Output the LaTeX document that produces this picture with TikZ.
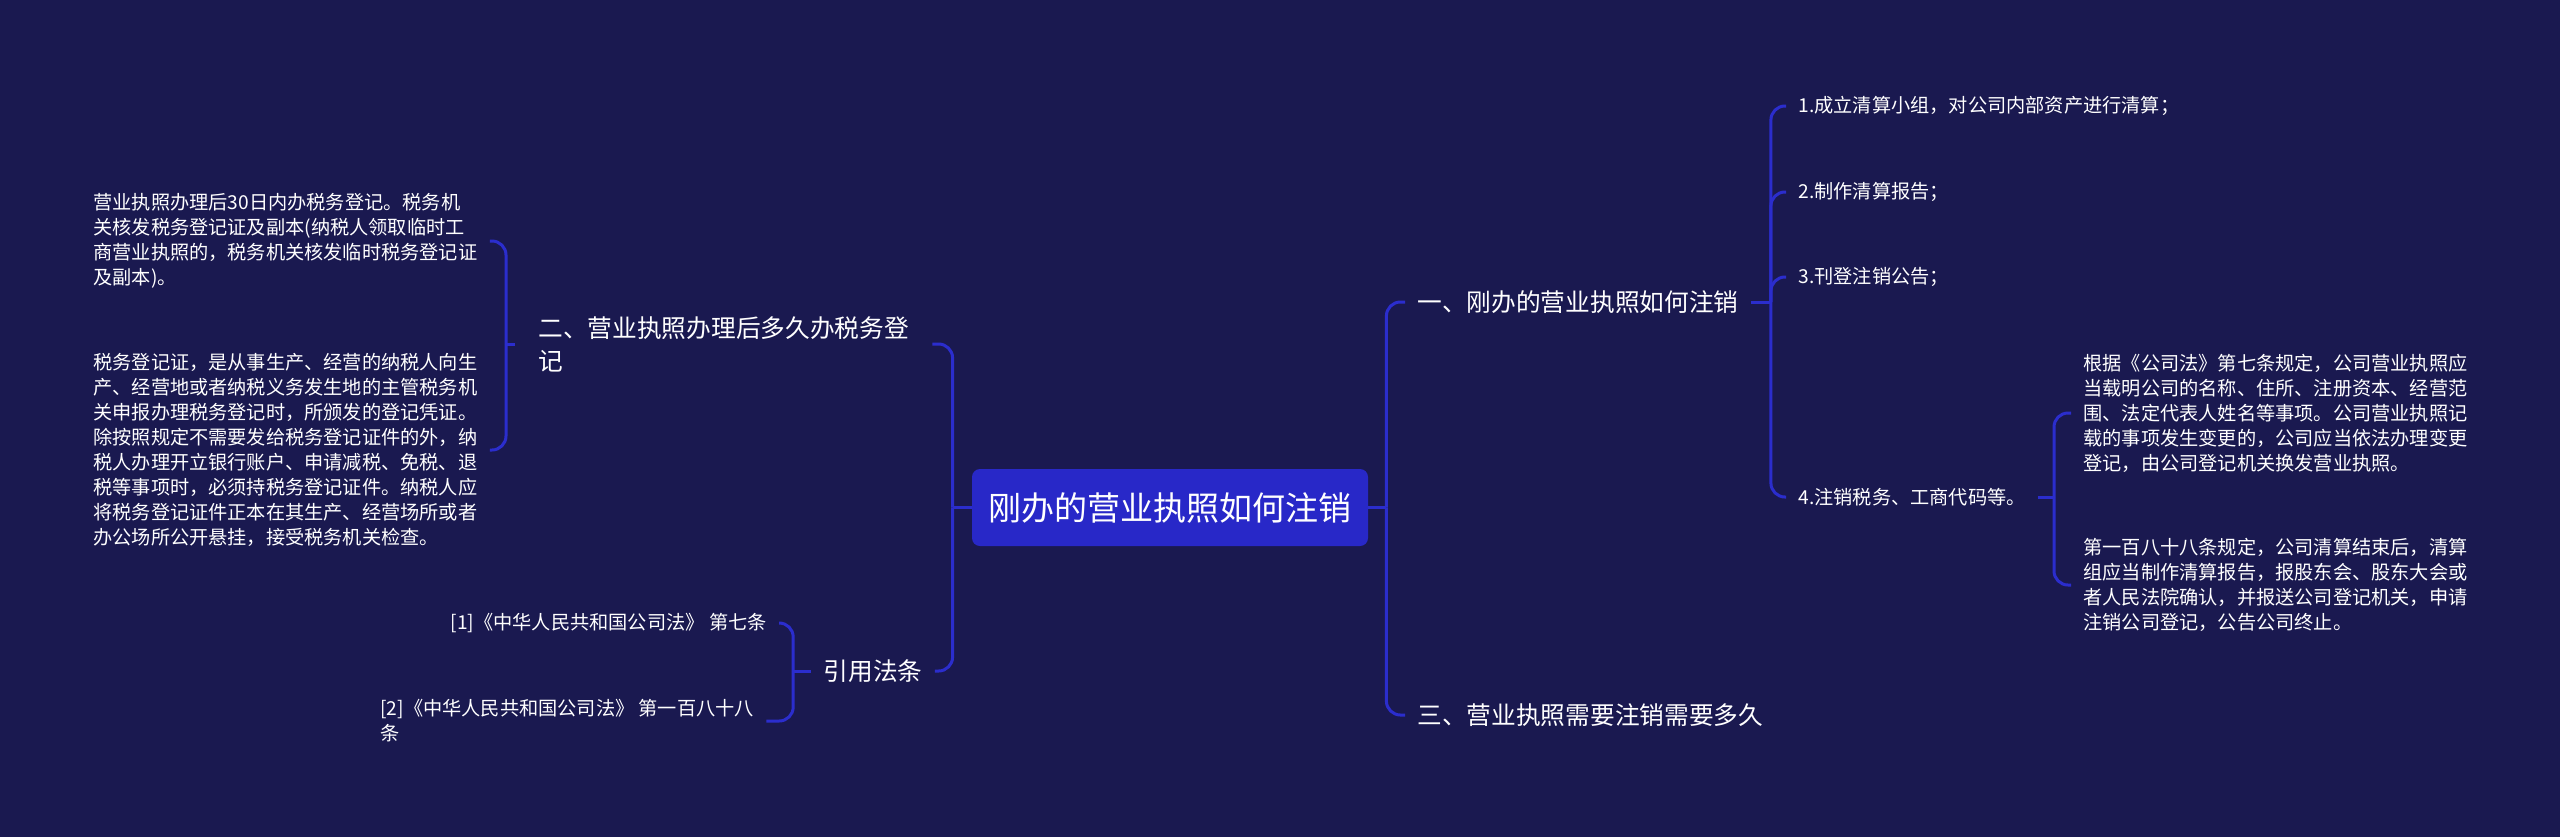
\documentclass[tikz,border=0pt]{standalone}
\usepackage{fontspec}
\setmainfont{Noto Sans CJK SC}
\usetikzlibrary{calc}
\definecolor{bgc}{RGB}{26,25,80}
\definecolor{lnc}{RGB}{43,45,205}
\definecolor{rootc}{RGB}{40,40,200}
\tikzset{
  conn/.style={draw=lnc, line width=1.5pt, rounded corners=7pt},
  stub/.style={draw=lnc, line width=1.5pt},
  lvone/.style={text=white, font=\fontsize{12.35pt}{16.5pt}\selectfont, inner xsep=6pt, inner ysep=2pt, align=left},
  lvtwo/.style={text=white, font=\fontsize{9.6pt}{12.5pt}\selectfont, inner xsep=6pt, inner ysep=2pt, align=left},
  rootbox/.style={fill=rootc, rounded corners=4pt, text=white, font=\fontsize{16.5pt}{20pt}\selectfont, minimum width=198pt, minimum height=38.5pt, inner sep=0pt}
}
\begin{document}
\begin{tikzpicture}[x=0.5pt,y=-0.5pt]
\fill[bgc] (0,0) rectangle (2560,837);
\useasboundingbox (0,0) rectangle (2560,837);

% root
\node[rootbox] (root) at (1170,507.5) {刚办的营业执照如何注销};

% right side level 1
\node[lvone, anchor=west] (n1) at (1405,302) {一、刚办的营业执照如何注销};
\node[lvone, anchor=west] (n3) at (1405,715) {三、营业执照需要注销需要多久};

% level 2 under n1
\node[lvtwo, anchor=west] (a1) at (1786,106) {1.成立清算小组，对公司内部资产进行清算；};
\node[lvtwo, anchor=west] (a2) at (1786,192) {2.制作清算报告；};
\node[lvtwo, anchor=west] (a3) at (1786,277) {3.刊登注销公告；};
\node[lvtwo, anchor=west] (a4) at (1786,497) {4.注销税务、工商代码等。};

% level 3 under a4
\node[lvtwo, anchor=west] (b1) at (2071,413) {根据《公司法》第七条规定，公司营业执照应\\当载明公司的名称、住所、注册资本、经营范\\围、法定代表人姓名等事项。公司营业执照记\\载的事项发生变更的，公司应当依法办理变更\\登记，由公司登记机关换发营业执照。};
\node[lvtwo, anchor=west] (b2) at (2071,585) {第一百八十八条规定，公司清算结束后，清算\\组应当制作清算报告，报股东会、股东大会或\\者人民法院确认，并报送公司登记机关，申请\\注销公司登记，公告公司终止。};

% left side level 1
\node[lvone, anchor=west, inner xsep=11.5pt] (n2) at (515,344) {二、营业执照办理后多久办税务登\\记};
\node[lvone] (c) at (873,671) {引用法条};

% level 2 under n2
\node[lvtwo, anchor=west] (d1) at (81,241) {营业执照办理后30日内办税务登记。税务机\\关核发税务登记证及副本(纳税人领取临时工\\商营业执照的，税务机关核发临时税务登记证\\及副本)。};
\node[lvtwo, anchor=west] (d2) at (81,450) {税务登记证，是从事生产、经营的纳税人向生\\产、经营地或者纳税义务发生地的主管税务机\\关申报办理税务登记时，所颁发的登记凭证。\\除按照规定不需要发给税务登记证件的外，纳\\税人办理开立银行账户、申请减税、免税、退\\税等事项时，必须持税务登记证件。纳税人应\\将税务登记证件正本在其生产、经营场所或者\\办公场所公开悬挂，接受税务机关检查。};

% level 2 under c
\node[lvtwo, anchor=east] (e1) at (779,623) {[1]《中华人民共和国公司法》 第七条};
\node[lvtwo, anchor=west] (e2) at (368,721) {[2]《中华人民共和国公司法》 第一百八十八\\条};

% junction coordinates
\coordinate (jr) at ($(root.east)+(18,0)$);
\coordinate (jl) at ($(root.west)+(-19,0)$);
\coordinate (j1) at ($(n1.east)+(20,0)$);
\coordinate (j4) at ($(a4.east)+(16,0)$);
\coordinate (j2) at ($(n2.west)+(-9,0)$);
\coordinate (jc) at ($(c.west)+(-18,0)$);

% connectors right
\draw[stub] (root.east) -- (jr);
\draw[conn] (jr) |- (n1.west);
\draw[conn] (jr) |- (n3.west);
\draw[stub] (n1.east) -- (j1);
\draw[conn] (j1) |- (a1.west);
\draw[conn] (j1) |- (a2.west);
\draw[conn] (j1) |- (a3.west);
\draw[conn] (j1) |- (a4.west);
\draw[stub] (a4.east) -- (j4);
\draw[conn] (j4) |- (b1.west);
\draw[conn] (j4) |- (b2.west);

% connectors left
\draw[stub] (root.west) -- (jl);
\draw[conn] (jl) |- (n2.east);
\draw[conn] (jl) |- (c.east);
\draw[stub] (n2.west) -- (j2);
\draw[conn] (j2) |- (d1.east);
\draw[conn] (j2) |- (d2.east);
\draw[stub] (c.west) -- (jc);
\draw[conn] (jc) |- (e1.east);
\draw[conn] (jc) |- (e2.east);
\end{tikzpicture}
\end{document}
